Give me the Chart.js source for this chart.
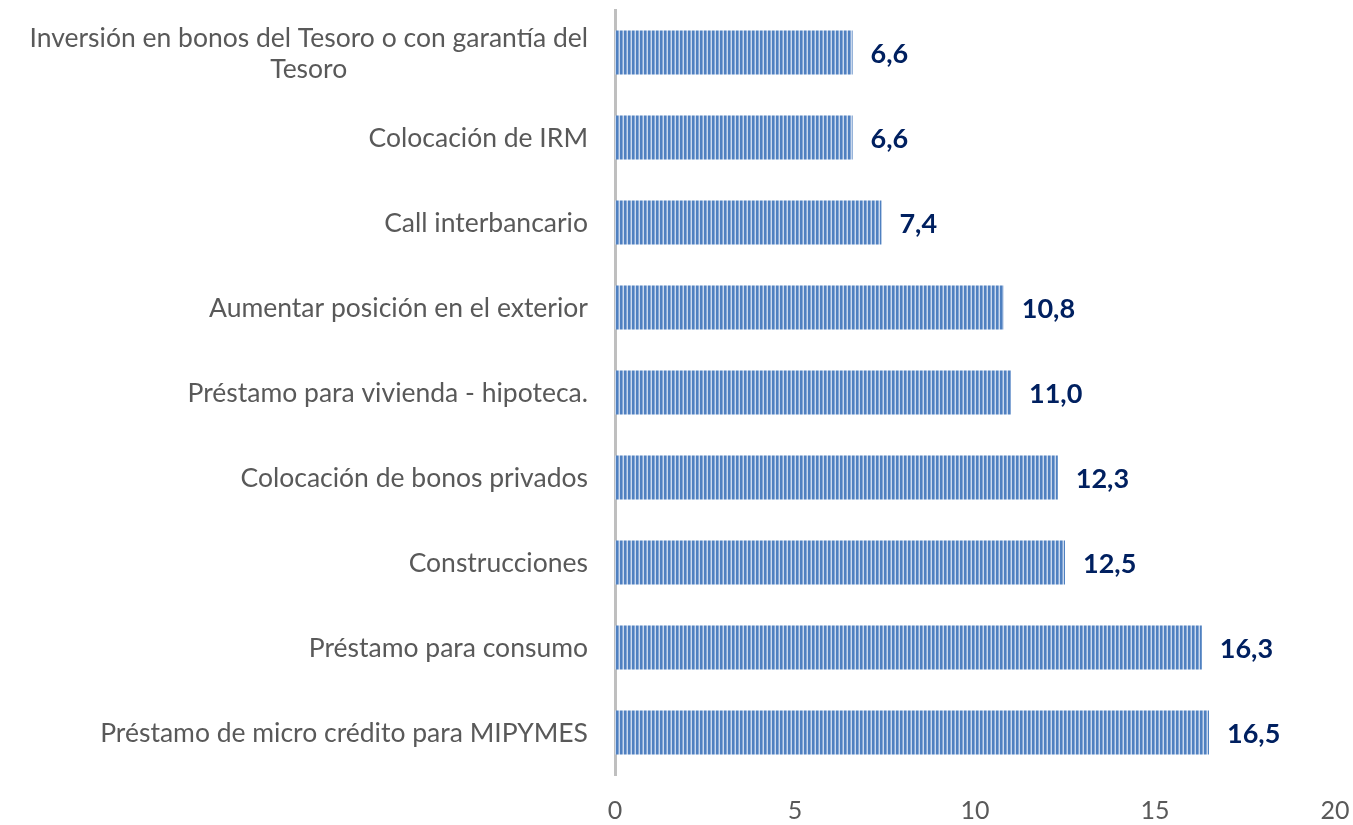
<!DOCTYPE html>
<html>
<head>
<meta charset="utf-8">
<script src="https://cdn.jsdelivr.net/npm/chart.js@4/dist/chart.umd.min.js"></script>
<style>
html, body { margin: 0; padding: 0; background: #fff; }
#wrap { width: 1353px; height: 825px; }
</style>
</head>
<body>
<div id="wrap"><canvas id="chart"></canvas></div>
<script>
var categories = [
	['Inversión en bonos del Tesoro o con garantía del', 'Tesoro'],
	'Colocación de IRM',
	'Call interbancario',
	'Aumentar posición en el exterior',
	'Préstamo para vivienda - hipoteca.',
	'Colocación de bonos privados',
	'Construcciones',
	'Préstamo para consumo',
	'Préstamo de micro crédito para MIPYMES'
];
var values = [6.6, 6.6, 7.4, 10.8, 11.0, 12.3, 12.5, 16.3, 16.5];
var xTicks = [0, 5, 10, 15, 20];

// vertical stripe fill like the original bars
function stripes() {
	var c = document.createElement('canvas');
	c.width = 4; c.height = 4;
	var g = c.getContext('2d');
	g.fillStyle = '#cbd9ed'; g.fillRect(0, 0, 4, 4);
	g.fillStyle = '#4f80c0'; g.fillRect(0, 0, 2, 4);
	g.fillStyle = '#86a8d6'; g.fillRect(2, 0, 1, 4);
	return g.createPattern(c, 'repeat');
}

// value labels at bar ends
var barLabels = {
	id: 'barLabels',
	afterDatasetsDraw: function(chart) {
		var ctx = chart.ctx, meta = chart.getDatasetMeta(0);
		ctx.save();
		ctx.font = 'bold 27px Lato, sans-serif';
		ctx.fillStyle = '#002060';
		ctx.textAlign = 'left';
		ctx.textBaseline = 'middle';
		meta.data.forEach(function(bar, i) {
			ctx.fillText(values[i].toFixed(1).replace('.', ','), bar.x + 18, bar.y + 2);
		});
		ctx.restore();
	}
};

// category labels: right aligned, extra lines centred under the first
var catLabels = {
	id: 'catLabels',
	afterDraw: function(chart) {
		var ys = chart.scales.y, ctx = chart.ctx;
		var right = chart.chartArea.left - 27;
		ctx.save();
		ctx.font = '26.5px Lato, sans-serif';
		ctx.fillStyle = '#595959';
		ctx.textAlign = 'center';
		ctx.textBaseline = 'middle';
		categories.forEach(function(lab, i) {
			var lines = [].concat(lab);
			var w = Math.max.apply(null, lines.map(function(l) { return ctx.measureText(l).width; }));
			var cy = ys.getPixelForValue(i);
			lines.forEach(function(l, j) {
				ctx.fillText(l, right - w / 2, cy + 1 + (j - (lines.length - 1) / 2) * 31);
			});
		});
		ctx.restore();
	}
};

var chart = new Chart(document.getElementById('chart'), {
	type: 'bar',
	data: {
		labels: categories,
		datasets: [{
			data: values,
			backgroundColor: stripes(),
			borderWidth: 0,
			barPercentage: 0.52,
			categoryPercentage: 1
		}]
	},
	options: {
		indexAxis: 'y',
		responsive: true,
		maintainAspectRatio: false,
		animation: false,
		layout: { padding: { top: 10, right: 18, left: 0, bottom: 0 } },
		plugins: { legend: { display: false }, tooltip: { enabled: false } },
		scales: {
			x: {
				min: xTicks[0],
				max: xTicks[xTicks.length - 1],
				afterBuildTicks: function(s) { s.ticks = xTicks.map(function(v) { return { value: v }; }); },
				afterFit: function(s) { s.height = 50; s.paddingLeft = 0; s.paddingRight = 0; },
				grid: { display: false, drawTicks: false },
				border: { display: false },
				ticks: {
					padding: 21,
					color: '#595959',
					font: { family: 'Lato, sans-serif', size: 25 }
				}
			},
			y: {
				grid: { display: false, drawTicks: false },
				border: { display: true, color: '#bfbfbf', width: 3 },
				ticks: { display: false },
				afterFit: function(s) { s.width = 615; }
			}
		}
	},
	plugins: [barLabels, catLabels]
});
</script>
</body>
</html>
